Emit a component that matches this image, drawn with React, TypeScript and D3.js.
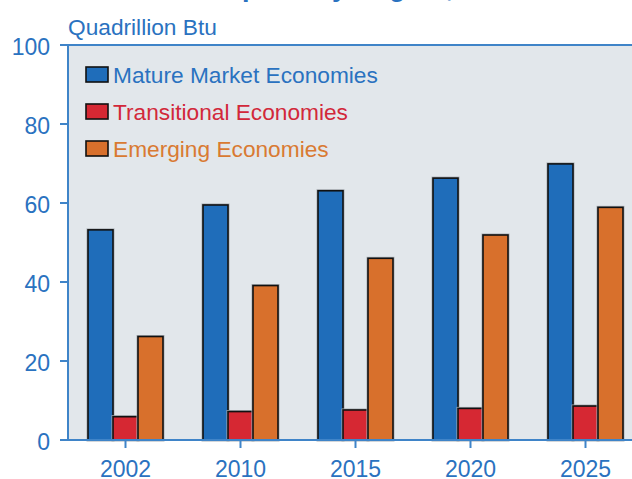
import React from "react";
import * as d3 from "d3";

const years = ["2002", "2010", "2015", "2020", "2025"];
const seriesNames = ["Mature Market Economies", "Transitional Economies", "Emerging Economies"];
const mature = [53.2, 59.5, 63.1, 66.3, 69.9];
const transitional = [5.9, 7.2, 7.6, 8.0, 8.6];
const emerging = [26.2, 39.1, 46.0, 51.9, 58.9];
const yTicks = [0, 20, 40, 60, 80, 100];
const unitLabel = "Quadrillion Btu";
const titleText = "Consumption by Region, 2002-2025";

const barColors = ["#1f6dba", "#d62833", "#d8702c"];
const textColors = ["#2a72c0", "#d2283a", "#d97a32"];
const axisColor = "#3f84c8";
const labelColor = "#2a72c0";
const font = "'Liberation Sans', Arial, Helvetica, sans-serif";

export default function App() {
  const W = 632, H = 479;
  const left = 68, top = 45, bottom = 440;
  const values = [mature, transitional, emerging];

  const x = d3.scaleBand<string>().domain(years).range([left, left + 575]).paddingInner(0.348).paddingOuter(0.174);
  const xs = d3.scaleBand<string>().domain(seriesNames).range([0, x.bandwidth()]).padding(0);
  const y = d3.scaleLinear().domain([0, 100]).range([bottom, top]);

  return (
    <svg width={W} height={H} style={{ position: "absolute", left: 0, top: 0 }} fontFamily={font}>
      <rect x={0} y={0} width={W} height={H} fill="#ffffff" />
      <text x={134} y={-4.5} fontSize={27} fontWeight="bold" fill={labelColor}>{titleText}</text>
      <rect x={left} y={top} width={W - left} height={bottom - top} fill="#e2e7eb" />
      <text x={68} y={35} fontSize={22.7} fill={labelColor}>{unitLabel}</text>

      {years.map((yr, i) => (
        <g key={yr}>
          {seriesNames.map((s, j) => {
            const v = values[j][i];
            const bx = (x(yr) as number) + (xs(s) as number);
            return (
              <g key={s}>
                <rect x={bx} y={y(v)} width={xs.bandwidth()} height={bottom - y(v)} fill="none" stroke="#a8aeb4" strokeWidth={3} />
                <rect x={bx} y={y(v)} width={xs.bandwidth()} height={bottom - y(v)} fill={barColors[j]} stroke="#111" strokeWidth={1.6} />
              </g>
            );
          })}
        </g>
      ))}

      {/* axes */}
      <line x1={60} x2={W} y1={top} y2={top} stroke={axisColor} strokeWidth={2} />
      <line x1={60} x2={W} y1={bottom} y2={bottom} stroke={axisColor} strokeWidth={2} />
      <line x1={left} x2={left} y1={top} y2={bottom} stroke={axisColor} strokeWidth={2} />
      {yTicks.map((t) => (
        <g key={t}>
          <line x1={60} x2={left} y1={y(t)} y2={y(t)} stroke={axisColor} strokeWidth={2} />
          <text x={50} y={y(t) + 10} fontSize={23} fill={labelColor} textAnchor="end">{t}</text>
        </g>
      ))}
      {years.map((yr) => {
        const cx = (x(yr) as number) + x.bandwidth() / 2;
        return (
          <g key={yr}>
            <line x1={cx} x2={cx} y1={bottom} y2={bottom + 8} stroke={axisColor} strokeWidth={2} />
            <text x={cx} y={477} fontSize={23} fill={labelColor} textAnchor="middle">{yr}</text>
          </g>
        );
      })}

      {/* legend */}
      {seriesNames.map((s, j) => (
        <g key={s}>
          <rect x={86} y={67 + j * 37} width={22} height={15} fill={barColors[j]} stroke="#111" strokeWidth={1.6} />
          <text x={113} y={83 + j * 37} fontSize={22.7} fill={textColors[j]}>{s}</text>
        </g>
      ))}
    </svg>
  );
}
